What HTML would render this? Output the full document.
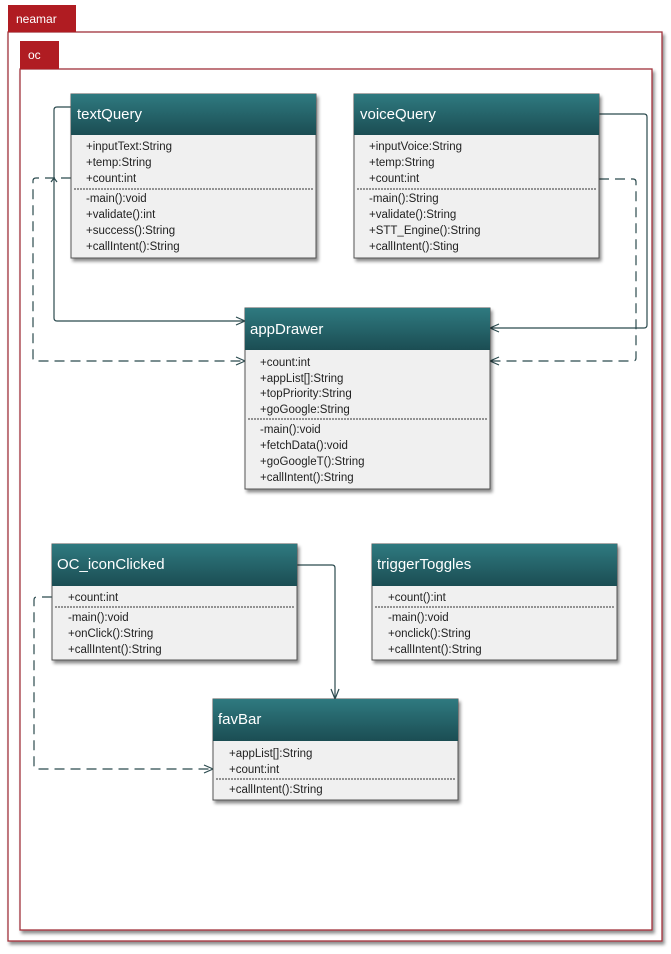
<!DOCTYPE html>
<html><head><meta charset="utf-8"><style>
html,body{margin:0;padding:0;background:#fff;width:671px;height:954px;overflow:hidden}
text{font-family:"Liberation Sans",sans-serif}
.h{fill:#fff;font-size:15px}
.t{fill:#222;font-size:11.5px}
</style></head><body>
<svg width="671" height="954" viewBox="0 0 671 954" xmlns="http://www.w3.org/2000/svg">
<defs>
<linearGradient id="g" x1="0" y1="0" x2="0" y2="1"><stop offset="0" stop-color="#2f7a80"/><stop offset="1" stop-color="#1b4d53"/></linearGradient>
<filter id="s" x="-5%" y="-5%" width="115%" height="120%"><feDropShadow dx="2" dy="3" stdDeviation="1.5" flood-color="#000" flood-opacity="0.45"/></filter>
</defs>
<rect x="8" y="32" width="654" height="909" fill="#fff" stroke="#a0303a" stroke-width="1.3" filter="url(#s)"/>
<rect x="8" y="5" width="68" height="27" fill="#b01c22"/>
<text x="16" y="23" fill="#fff" font-size="12">neamar</text>
<rect x="20" y="69" width="632" height="861" fill="#fff" stroke="#a0303a" stroke-width="1.3" filter="url(#s)"/>
<rect x="20" y="41" width="39" height="28" fill="#b01c22"/>
<text x="28" y="59" fill="#fff" font-size="12">oc</text>

<g fill="none" stroke="#2b4a4e" stroke-width="1.2">
<path d="M71,107 H57 Q54,107 54,110 V318 Q54,321 57,321 H245"/>
<path d="M236,317 L245,321 L236,325"/>
<path d="M599,114 H644 Q647,114 647,117 V325 Q647,328 644,328 H490"/>
<path d="M499,324 L490,328 L499,332"/>
<path d="M297,565 H332 Q335,565 335,568 V699"/>
<path d="M331,689 L335,699 L339,689"/>
</g>
<g fill="none" stroke="#2b4a4e" stroke-width="1.2" stroke-dasharray="10,6">
<path d="M71,178 H36 Q33,178 33,181 V358 Q33,361 36,361 H245"/>
<path d="M599,179 H633 Q636,179 636,182 V358 Q636,361 633,361 H490"/>
<path d="M52,597 H37 Q34,597 34,600 V766 Q34,769 37,769 H213"/>
</g>
<g fill="none" stroke="#2b4a4e" stroke-width="1.2">
<path d="M236,357 L245,361 L236,365"/>
<path d="M499,357 L490,361 L499,365"/>
<path d="M204,765 L213,769 L204,773"/>
<path d="M51,182 L54,178 L57,182"/>
</g>

<g filter="url(#s)"><rect x="71" y="94" width="245" height="164" fill="#f0f0f0" stroke="#555"/></g>
<rect x="71" y="94" width="245" height="41" fill="url(#g)"/>
<text class="h" x="77" y="119">textQuery</text>
<text class="t" x="86" y="150">+inputText:String</text>
<text class="t" x="86" y="166">+temp:String</text>
<text class="t" x="86" y="182">+count:int</text>
<line x1="74" y1="189" x2="313" y2="189" stroke="#333" stroke-dasharray="2,1"/>
<text class="t" x="86" y="202">-main():void</text>
<text class="t" x="86" y="218">+validate():int</text>
<text class="t" x="86" y="234">+success():String</text>
<text class="t" x="86" y="250">+callIntent():String</text>

<g filter="url(#s)"><rect x="354" y="94" width="245" height="164" fill="#f0f0f0" stroke="#555"/></g>
<rect x="354" y="94" width="245" height="41" fill="url(#g)"/>
<text class="h" x="360" y="119">voiceQuery</text>
<text class="t" x="369" y="150">+inputVoice:String</text>
<text class="t" x="369" y="166">+temp:String</text>
<text class="t" x="369" y="182">+count:int</text>
<line x1="357" y1="189" x2="596" y2="189" stroke="#333" stroke-dasharray="2,1"/>
<text class="t" x="369" y="202">-main():String</text>
<text class="t" x="369" y="218">+validate():String</text>
<text class="t" x="369" y="234">+STT_Engine():String</text>
<text class="t" x="369" y="250">+callIntent():Sting</text>

<g filter="url(#s)"><rect x="245" y="308" width="245" height="181" fill="#f0f0f0" stroke="#555"/></g>
<rect x="245" y="308" width="245" height="42" fill="url(#g)"/>
<text class="h" x="250" y="334">appDrawer</text>
<text class="t" x="260" y="366">+count:int</text>
<text class="t" x="260" y="382">+appList[]:String</text>
<text class="t" x="260" y="397">+topPriority:String</text>
<text class="t" x="260" y="413">+goGoogle:String</text>
<line x1="248" y1="419" x2="487" y2="419" stroke="#333" stroke-dasharray="2,1"/>
<text class="t" x="260" y="433">-main():void</text>
<text class="t" x="260" y="449">+fetchData():void</text>
<text class="t" x="260" y="465">+goGoogleT():String</text>
<text class="t" x="260" y="481">+callIntent():String</text>

<g filter="url(#s)"><rect x="52" y="544" width="245" height="116" fill="#f0f0f0" stroke="#555"/></g>
<rect x="52" y="544" width="245" height="42" fill="url(#g)"/>
<text class="h" x="57" y="569">OC_iconClicked</text>
<text class="t" x="68" y="601">+count:int</text>
<line x1="55" y1="607" x2="294" y2="607" stroke="#333" stroke-dasharray="2,1"/>
<text class="t" x="68" y="621">-main():void</text>
<text class="t" x="68" y="637">+onClick():String</text>
<text class="t" x="68" y="653">+callIntent():String</text>

<g filter="url(#s)"><rect x="372" y="544" width="245" height="116" fill="#f0f0f0" stroke="#555"/></g>
<rect x="372" y="544" width="245" height="42" fill="url(#g)"/>
<text class="h" x="377" y="569">triggerToggles</text>
<text class="t" x="388" y="601">+count():int</text>
<line x1="375" y1="607" x2="614" y2="607" stroke="#333" stroke-dasharray="2,1"/>
<text class="t" x="388" y="621">-main():void</text>
<text class="t" x="388" y="637">+onclick():String</text>
<text class="t" x="388" y="653">+callIntent():String</text>

<g filter="url(#s)"><rect x="213" y="699" width="245" height="101" fill="#f0f0f0" stroke="#555"/></g>
<rect x="213" y="699" width="245" height="42" fill="url(#g)"/>
<text class="h" x="218" y="724">favBar</text>
<text class="t" x="229" y="757">+appList[]:String</text>
<text class="t" x="229" y="773">+count:int</text>
<line x1="216" y1="779" x2="455" y2="779" stroke="#333" stroke-dasharray="2,1"/>
<text class="t" x="229" y="793">+callIntent():String</text>
</svg>
</body></html>
